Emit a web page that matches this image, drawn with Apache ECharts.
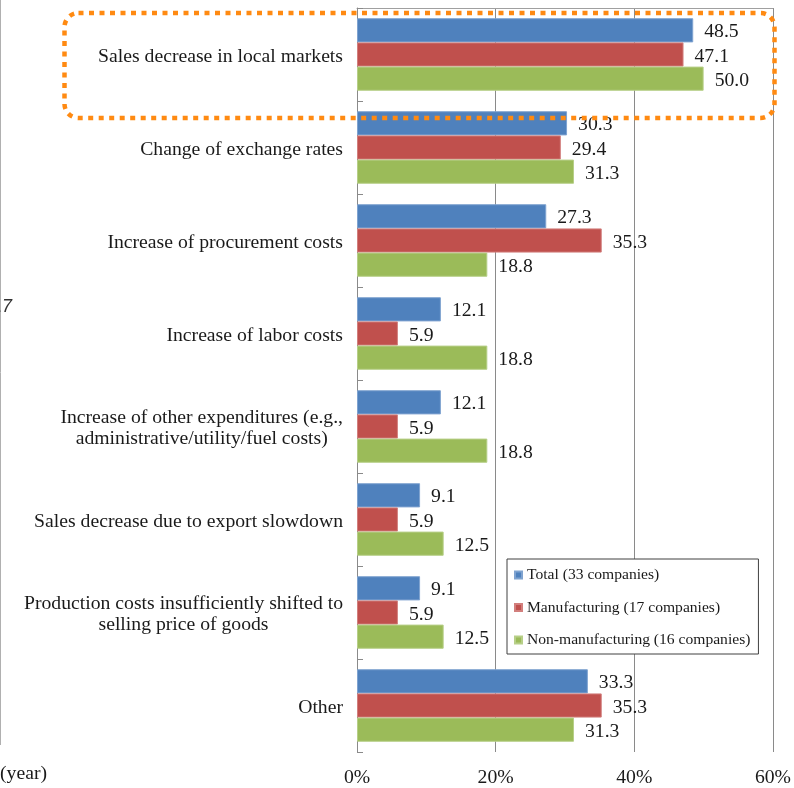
<!DOCTYPE html>
<html>
<head>
<meta charset="utf-8">
<script src="https://cdn.jsdelivr.net/npm/echarts@6/dist/echarts.min.js"></script>
<style>
html,body{margin:0;padding:0;background:#fff;}
#chart{width:794px;height:788px;}
</style>
</head>
<body>
<div id="chart"></div>
<script>
const categories = [
  "Sales decrease in local markets",
  "Change of exchange rates",
  "Increase of procurement costs",
  "Increase of labor costs",
  "Increase of other expenditures (e.g.,\nadministrative/utility/fuel costs)",
  "Sales decrease due to export slowdown",
  "Production costs insufficiently shifted to\nselling price of goods",
  "Other"
];
const seriesNames = ["Total (33 companies)", "Manufacturing (17 companies)", "Non-manufacturing (16 companies)"];
const totalValues = [48.5, 30.3, 27.3, 12.1, 12.1, 9.1, 9.1, 33.3];
const manufacturingValues = [47.1, 29.4, 35.3, 5.9, 5.9, 5.9, 5.9, 35.3];
const nonManufacturingValues = [50.0, 31.3, 18.8, 18.8, 18.8, 12.5, 12.5, 31.3];
const xTicks = [0, 20, 40, 60];

const FONT = "'Liberation Serif', 'Times New Roman', serif";
const FS = 19.7;
const TXT = '#1a1a1a';
const colors = ['#4F81BD', '#C0504D', '#9BBB59'];
const borders = ['#7FA3D0', '#D27F7D', '#B7CF88'];
const values = [totalValues, manufacturingValues, nonManufacturingValues];

const chart = echarts.init(document.getElementById('chart'), null, {renderer: 'canvas'});

const series = seriesNames.map((name, i) => ({
  name: name,
  type: 'bar',
  data: values[i],
  barGap: '0%',
  barCategoryGap: '22%',
  itemStyle: {color: colors[i], borderColor: borders[i], borderWidth: 1},
  label: {
    show: true,
    position: 'right',
    distance: 11,
    offset: [0, 2],
    color: TXT,
    fontFamily: FONT,
    fontSize: FS,
    formatter: p => p.value.toFixed(1)
  },
  z: 2
}));

chart.setOption({
  animation: false,
  backgroundColor: '#fff',
  grid: {left: 357, right: 20, top: 8, bottom: 33, containLabel: false},
  legend: {
    orient: 'vertical',
    left: 507,
    top: 559,
    data: seriesNames,
    icon: 'rect',
    itemWidth: 7,
    itemHeight: 7,
    itemGap: 16.5,
    padding: [8, 8, 6, 7],
    backgroundColor: '#fff',
    borderColor: '#404040',
    borderWidth: 1,
    textStyle: {fontFamily: FONT, fontSize: 15.6, color: TXT, lineHeight: 16},
    z: 5
  },
  xAxis: [{
    type: 'value',
    min: xTicks[0],
    max: xTicks[xTicks.length - 1],
    interval: 20,
    position: 'bottom',
    axisLine: {show: false},
    axisTick: {show: false},
    axisLabel: {formatter: '{value}%', color: TXT, fontFamily: FONT, fontSize: FS, margin: 16},
    splitLine: {show: true, lineStyle: {color: '#8a8a8a', width: 1}}
  }, {
    type: 'value',
    min: xTicks[0],
    max: xTicks[xTicks.length - 1],
    position: 'top',
    axisLine: {show: true, lineStyle: {color: '#a0a0a0', width: 1}},
    axisTick: {show: false},
    axisLabel: {show: false},
    splitLine: {show: false}
  }],
  yAxis: {
    type: 'category',
    data: categories,
    inverse: true,
    axisLine: {show: true, lineStyle: {color: '#8a8a8a', width: 1}},
    axisTick: {show: true, inside: true, length: 6, lineStyle: {color: '#8a8a8a'}},
    axisLabel: {
      margin: 14,
      align: 'right',
      padding: [4, 0, 0, 0],
      color: TXT,
      fontFamily: FONT,
      fontSize: FS,
      lineHeight: 21,
      formatter: v => v.split('\n').map(s => '{c|' + s + '}').join('\n'),
      rich: {c: {align: 'center', fontFamily: FONT, fontSize: FS, lineHeight: 21, color: TXT}}
    }
  },
  series: series,
  graphic: [
    {
      type: 'rect',
      shape: {x: 64.5, y: 13, width: 710, height: 105, r: 14},
      style: {fill: 'none', stroke: '#FF8A12', lineWidth: 4.5, lineDash: [5, 5.5]},
      z: 10
    },
    {
      type: 'line',
      shape: {x1: 0.5, y1: 0, x2: 0.5, y2: 745},
      style: {stroke: '#b0b0b0', lineWidth: 1},
      z: 1
    },
    {
      type: 'text',
      x: -8, y: 298,
      style: {text: '17', font: "italic 18px 'Liberation Sans', Arial, sans-serif", fill: '#333'},
      z: 1
    },
    {
      type: 'text',
      x: 0, y: 764,
      style: {text: '(year)', font: "19.7px 'Liberation Serif', 'Times New Roman', serif", fill: TXT},
      z: 1
    }
  ]
});
</script>
</body>
</html>
